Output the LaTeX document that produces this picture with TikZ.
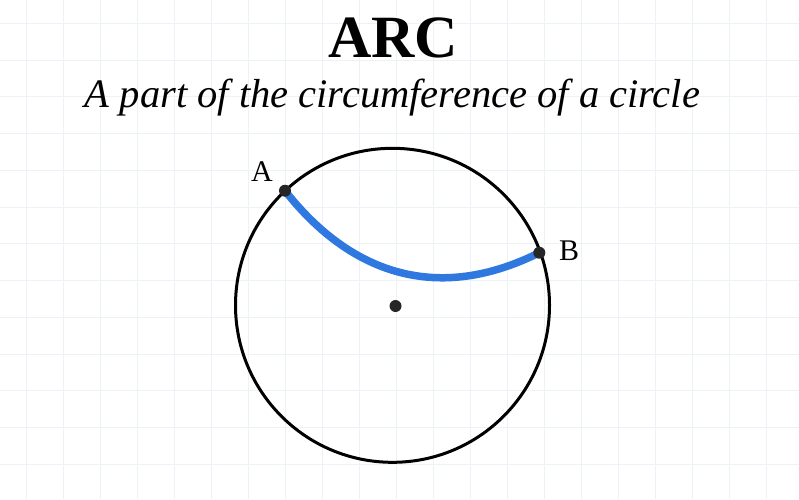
\documentclass[tikz,border=0pt]{standalone}
\usepackage{fontspec}
\setmainfont{Liberation Serif}
\definecolor{gridgray}{RGB}{236,242,245}
\definecolor{arcblue}{RGB}{47,120,224}
\tikzset{
  pt/.style={circle, fill=black!85, inner sep=0pt, minimum size=12pt},
  lab/.style={font=\fontsize{30}{30}\selectfont}
}
\begin{document}
\begin{tikzpicture}[x=1pt, y=-1pt]
\useasboundingbox[fill=white] (0,0) rectangle (799,499);
% background grid
\foreach \i in {0,...,21}
{
    \draw[gridgray, line width=1pt] (26.7+37*\i,0)--(26.7+37*\i,499);
}
\foreach \j in {0,...,13}
{
    \draw[gridgray, line width=1pt] (0,23.3+36.75*\j)--(799,23.3+36.75*\j);
}

\node (title) at (393,38){\fontsize{60}{60}\selectfont\bfseries ARC};
\node (subtitle) at (392.5,107)[anchor=base]{\fontsize{40.5}{40.5}\selectfont\itshape A part of the circumference of a circle};

\coordinate (O) at (392.5,305.3);
\coordinate (A) at (285,190.7);
\coordinate (B) at (539.3,252.7);
\draw[line width=3pt] (O) circle (157);

\draw[arcblue, line width=7.5pt] (A) .. controls (351.7,275.6) and (439.2,302.8) .. (B);

\node[pt] (dotA) at (A){};
\node[pt] (dotB) at (B){};
\node[pt] (dotO) at (395.5,306){};

\node[lab] (labA) at (262,172){A};
\node[lab] (labB) at (569,251){B};

\end{tikzpicture}
\end{document}
